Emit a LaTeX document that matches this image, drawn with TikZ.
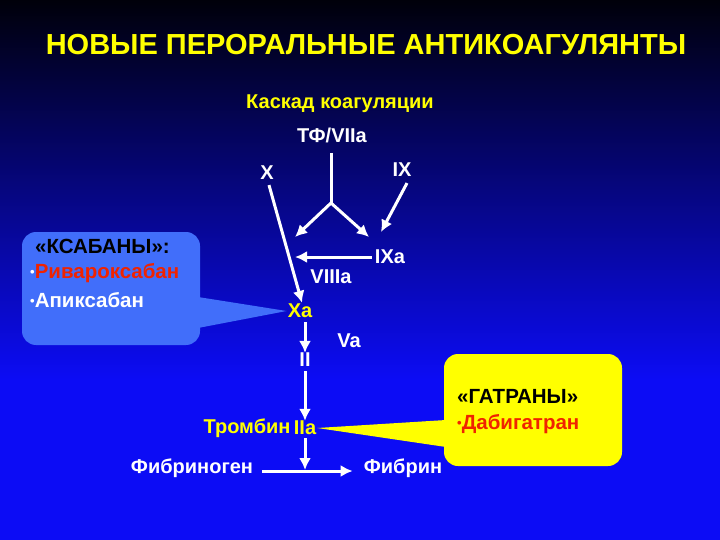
\documentclass[tikz,border=0pt]{standalone}
\usepackage{fontspec}
\setmainfont{Liberation Sans}
\usetikzlibrary{arrows.meta,positioning,calc}
\definecolor{NacBlue}{RGB}{12,12,245}
\definecolor{NacDark}{RGB}{0,0,10}
\definecolor{NacYellow}{RGB}{255,255,0}
\definecolor{NacRed}{RGB}{240,35,0}
\definecolor{NacSky}{RGB}{65,110,250}
\newcommand{\nacdot}{\raisebox{2pt}{\fontsize{13}{13}\selectfont•}}
\tikzset{
  nac/title/.style={
    font=\bfseries\fontsize{29}{32}\selectfont,
    text=NacYellow
  },
  nac/factor/.style={
    font=\bfseries\fontsize{20}{22}\selectfont,
    text=white,
    inner sep=1pt
  },
  nac/active/.style={nac/factor, text=NacYellow},
  nac/drug/.style={
    font=\bfseries\fontsize{20.5}{22}\selectfont,
    anchor=west,
    inner sep=1pt
  },
  nac/arrow/.style={-{Latex[length=12pt,width=12pt]}, line width=3pt, draw=white},
  nac/line/.style={line width=3pt, draw=white},
  nac/callout/.style={rounded corners=14pt}
}
\begin{document}
\begin{tikzpicture}[x=1pt,y=-1pt]
  \useasboundingbox (0,0) rectangle (720,540);
  % background
  \shade[top color=NacDark, bottom color=NacBlue] (0,0) rectangle (720,380);
  \fill[NacBlue] (0,379) rectangle (720,540);

  \node[nac/title] (title) at (366,45) {НОВЫЕ ПЕРОРАЛЬНЫЕ АНТИКОАГУЛЯНТЫ};
  \node[nac/active] (cascade) at (340,104) {Каскад коагуляции};

  % factors
  \node[nac/factor] (tf) at (332,135) {ТФ/VIIa};
  \node[nac/factor] (x) at (267,173) {X};
  \node[nac/factor] (ix) at (402,170) {IX};
  \node[nac/factor] (ixa) at (390,257) {IXa};
  \node[nac/factor] (viiia) at (331,277) {VIIIa};
  \node[nac/active] (xa) at (300,311) {Xa};
  \node[nac/factor] (va) at (349,341) {Va};
  \node[nac/factor] (ii) at (305,360) {II};
  \node[nac/active] (iia) at (305,428) {IIa};
  \node[nac/active, left=1pt of iia] (thrombin) {Тромбин};
  \node[nac/factor] (fbg) at (192,468) {Фибриноген};
  \node[nac/factor] (fbn) at (403,468) {Фибрин};

  \coordinate (tfstart) at (331,153);
  \coordinate (fork) at (331,203);
  \coordinate (forkl) at (295,237);
  \coordinate (forkr) at (369,237);
  \coordinate (ixend) at (381,232);
  \coordinate (viiiend) at (295,257);
  \coordinate (fibjoin) at (305,470);

  % arrows
  \draw[nac/line] (tfstart) -- (fork);
  \draw[nac/arrow] (fork) -- (forkl);
  \draw[nac/arrow] (fork) -- (forkr);
  \draw[nac/arrow] ([xshift=5pt,yshift=-5pt]ix.south) -- (ixend);
  \draw[nac/arrow] ([xshift=2pt,yshift=-4pt]x.south) -- ([xshift=2pt]xa.north);
  \draw[nac/arrow] ([xshift=-2pt]ixa.west) -- (viiiend);
  \draw[nac/arrow] ([yshift=-3pt]xa.south -| ii) -- ([yshift=-1pt]ii.north);
  \draw[nac/arrow] ([yshift=-3pt]ii.south) -- ([yshift=-1pt]iia.north);
  \draw[nac/arrow] ([yshift=-2pt]iia.south) -- (fibjoin);
  \draw[nac/arrow] ([xshift=8pt,yshift=-3pt]fbg.east) -- ([xshift=-10pt,yshift=-3pt]fbn.west);

  % xabans
  \fill[NacSky, nac/callout] (22,232) rectangle (200,345);
  \fill[NacSky] (198,297) -- (xa.west) -- (198,328) -- cycle;
  \node[nac/drug] (ksa) at (34,246) {«КСАБАНЫ»:};
  \node[nac/drug, text=NacRed] (riva) at (29,273) {{\color{white}\nacdot}Ривароксабан};
  \node[nac/drug, text=white] (apix) at (29,300) {\nacdot Апиксабан};

  % gatrans
  \fill[NacYellow, nac/callout] (444,354) rectangle (622,466);
  \fill[NacYellow] (446,420) -- (iia.east) -- (446,447) -- cycle;
  \node[nac/drug] (gat) at (456,396) {«ГАТРАНЫ»};
  \node[nac/drug, text=NacRed] (dabi) at (456,424) {\nacdot Дабигатран};
\end{tikzpicture}
\end{document}
